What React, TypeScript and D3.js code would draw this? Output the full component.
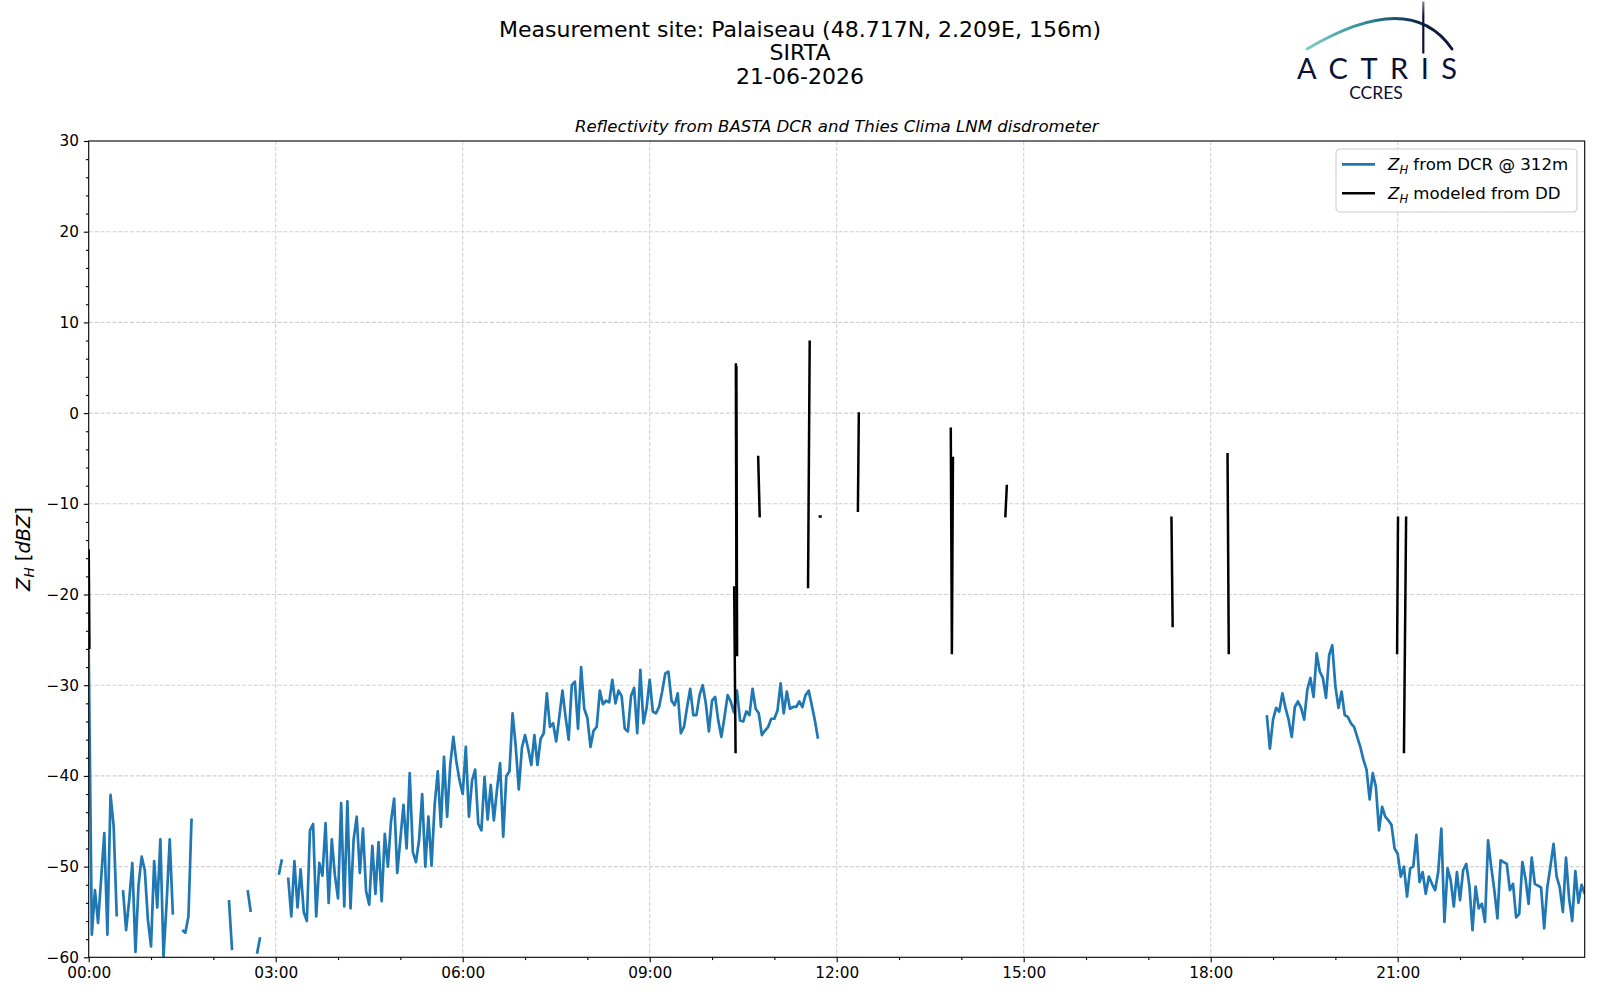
import React, { useEffect, useRef } from 'react';
import * as d3 from 'd3';

// DCR reflectivity, sampled every 3 minutes, null = no data
const STEP_H = 3 / 60;

const dcr0000: (number | null)[] = [
  -26, -57.5, -52.6, -56.2, -51.3, -46.3, -57.5, -42.1, -45.5, -55.5,
  null, -52.6, -57, -53.7, -49.6, -59.4, -52, -48.9, -50.4, -55.9,
  -58.8, -49.4, -54.5, -47, -59.9, -54, -47, -55.3, null, null,
  -57, -57.3, -55.5, -44.7, null, null, null, null, null, null,
  null, null, null, null, null, -53.7, -59.2, null, null, null,
  null, -52.6, -55, null, -59.6, -57.8, null, null, null, null,
];

const dcr0300: (number | null)[] = [
  null, -50.9, -49.2, null, -51.2, -55.5, -49.4, -54.5, -50.3, -55,
  -56, -46, -45.3, -55.5, -49.6, -51, -45.2, -54, -47, -51,
  -53.5, -43, -54.4, -42.8, -54.6, -47, -44.5, -50.7, -45.8, -52.7,
  -54.2, -47.7, -53, -47.3, -53.8, -46.4, -50, -45, -42.5, -50.7,
  -47, -43.2, -48, -39.7, -48.4, -49.5, -47.1, -42, -50, -44.5,
  -49.9, -43.2, -39.5, -45.6, -37.9, -44.5, -38.8, -35.7, -38.5, -40.5,
];

const dcr0600: (number | null)[] = [
  -42, -36.8, -44.5, -40.5, -39.3, -45.3, -46, -40.1, -44.8, -41,
  -44.9, -41.5, -38.6, -46.7, -40, -39.5, -33.1, -36.7, -41.5, -36.9,
  -35.5, -37, -38.8, -35.5, -38.8, -35.9, -35.3, -30.9, -34.6, -34.2,
  -36.2, -33.5, -30.6, -33.5, -36, -30, -29.6, -34.8, -28, -32.6,
  -33.6, -36.8, -35, -34.6, -30.6, -32.1, -31.7, -31.9, -29.4, -32,
  -30.6, -31.2, -34.8, -35.1, -31.2, -30.3, -35.3, -28.3, -34.2, -32.5,
];

const dcr0900: (number | null)[] = [
  -29.4, -32.9, -33.1, -32.4, -30.7, -28.7, -28.5, -31.7, -32.2, -30.9,
  -35.3, -34.6, -32.4, -30.4, -33.3, -33.3, -31.1, -30, -32, -35.1,
  -31.7, -31.3, -33.9, -35.7, -33.5, -31.1, -31.8, -33, -30.6, -33.9,
  -34, -32.9, -33.3, -30.4, -32.6, -33.1, -35.5, -35, -34.6, -33.7,
  -33.7, -32.8, -29.8, -33.1, -30.7, -32.6, -32.4, -32.4, -31.8, -32.4,
  -31.1, -30.6, -32.2, -33.9, -35.9,
];

const dcr1854: (number | null)[] = [
  -33.3, -37, -33.8, -32.5, -32.9, -30.9, -32.5, -33.8, -35.7, -32.4,
  -31.8, -32.5, -33.8, -30.5, -29.2, -31.3, -26.5, -28.5, -29.2, -31.4,
  -26.7, -25.6, -30.1, -32.5, -30.7, -33.3, -33.5, -34.2, -34.6, -35.7,
  -36.8, -38.2, -39.3, -42.6, -39.7, -41.2, -46, -43.4, -44.5, -44.9,
  -45.4, -48,
];

const dcr2100: (number | null)[] = [
  -48.6, -51.1, -50, -53.3, -50.2, -50, -46.5, -51.7, -50.6, -53,
  -51.1, -51.9, -52.6, -50.6, -45.8, -56.1, -50.2, -51.5, -54.4, -50.6,
  -53.7, -50.4, -49.7, -52.1, -57, -52.2, -54.6, -54.1, -56.1, -47.1,
  -50, -52.6, -55.7, -49.3, -49.5, -49.7, -52.6, -51.9, -55.6, -55.2,
  -49.5, -51.3, -54.1, -49, -51.9, -52.1, -52.3, -56.8, -52.3, -50,
  -47.5, -51.1, -52.3, -55, -49, -53.5, -56, -50.5, -54, -52,
  -53,
];

const dcrBlocks = [
  { start: 0, values: dcr0000 },
  { start: 3, values: dcr0300 },
  { start: 6, values: dcr0600 },
  { start: 9, values: dcr0900 },
  { start: 18.9, values: dcr1854 },
  { start: 21, values: dcr2100 },
];

// disdrometer modeled reflectivity: short [hour, dBZ] pieces
const ddSegments: [number, number][][] = [
  [[0, -15], [0.012, -26]],
  [[10.355, -19.1], [10.378, -37.5]],
  [[10.382, 5.5], [10.394, -26.5]],
  [[10.39, 5.2], [10.402, -26.8]],
  [[10.74, -4.7], [10.765, -11.5]],
  [[11.54, -19.3], [11.567, 8]],
  [[11.71, -11.4], [11.76, -11.4]],
  [[12.34, -10.9], [12.355, 0.1]],
  [[13.83, -1.6], [13.848, -26.6], [13.865, -4.8]],
  [[14.705, -11.5], [14.73, -7.9]],
  [[17.37, -11.4], [17.39, -23.6]],
  [[18.27, -4.4], [18.29, -26.6]],
  [[20.99, -26.6], [21.005, -11.4]],
  [[21.1, -37.5], [21.135, -11.4]],
];

const xMajor = [0, 3, 6, 9, 12, 15, 18, 21];
const xMinor = [1, 2, 4, 5, 7, 8, 10, 11, 13, 14, 16, 17, 19, 20, 22, 23];
const yMajor = [-60, -50, -40, -30, -20, -10, 0, 10, 20, 30];

const titleLines = ['Measurement site: Palaiseau (48.717N, 2.209E, 156m)', 'SIRTA', '21-06-2026'];
const subtitle = 'Reflectivity from BASTA DCR and Thies Clima LNM disdrometer';

const FONT = 'DejaVu Sans';
const BLUE = '#1f77b4';
const NAVY = '#0b1136';
const LW = 2.7;

const App: React.FC = () => {
  const plotRef = useRef<SVGGElement>(null);

  useEffect(() => {
    const g = d3.select(plotRef.current);
    g.selectAll('*').remove();

    const x = d3.scaleLinear().domain([0, 24]).range([88.7, 1584.7]);
    const y = d3.scaleLinear().domain([-60, 30]).range([957.3, 141]);
    const [x0, x1] = x.range();
    const [y0, y1] = y.range();

    g.append('clipPath').attr('id', 'plotClip')
      .append('rect')
      .attr('x', x0).attr('y', y1).attr('width', x1 - x0).attr('height', y0 - y1);

    // grid
    const grid = g.append('g')
      .attr('stroke', '#d2d2d2')
      .attr('stroke-width', 1.1)
      .attr('stroke-dasharray', '4.1 1.8');
    grid.selectAll('line.v').data(xMajor.filter(d => d > 0)).enter().append('line')
      .attr('x1', d => x(d)).attr('x2', d => x(d)).attr('y1', y1).attr('y2', y0);
    grid.selectAll('line.h').data(yMajor.filter(d => d > -60 && d < 30)).enter().append('line')
      .attr('class', 'h')
      .attr('x1', x0).attr('x2', x1).attr('y1', d => y(d)).attr('y2', d => y(d));

    // series
    const dcrPoints: [number, number | null][] = [];
    dcrBlocks.forEach((b, k) => {
      if (k > 0) {
        const prev = dcrBlocks[k - 1];
        if (Math.abs(prev.start + prev.values.length * STEP_H - b.start) > 1e-6) dcrPoints.push([b.start, null]);
      }
      b.values.forEach((v, i) => dcrPoints.push([b.start + i * STEP_H, v]));
    });

    const line = d3.line<[number, number | null]>()
      .defined(d => d[1] !== null)
      .x(d => x(d[0]))
      .y(d => y(d[1] as number));

    const lines = g.append('g').attr('clip-path', 'url(#plotClip)');
    lines.append('path')
      .attr('d', line(dcrPoints))
      .attr('fill', 'none')
      .attr('stroke', BLUE)
      .attr('stroke-width', LW)
      .attr('stroke-linejoin', 'round')
      .attr('stroke-linecap', 'butt');

    lines.selectAll('path.dd').data(ddSegments).enter().append('path')
      .attr('class', 'dd')
      .attr('d', d => line(d))
      .attr('fill', 'none')
      .attr('stroke', '#000')
      .attr('stroke-width', LW - 0.2)
      .attr('stroke-linecap', 'butt');

    // axes
    const styleAxis = (sel: d3.Selection<SVGGElement, unknown, null, undefined>) => {
      sel.select('.domain').remove();
      sel.attr('font-family', FONT).attr('font-size', 15.3).attr('color', '#000');
      sel.selectAll('line').attr('stroke-width', 1.1);
    };

    g.append('g').attr('transform', `translate(0,${y0})`)
      .call(d3.axisBottom(x).tickValues(xMajor).tickSize(4.9).tickPadding(4.9)
        .tickFormat(d => `${String(d).padStart(2, '0')}:00`))
      .call(styleAxis);
    g.append('g').attr('transform', `translate(0,${y0})`)
      .call(d3.axisBottom(x).tickValues(xMinor).tickSize(2.8).tickFormat(() => ''))
      .call(styleAxis);

    const yMinor = d3.range(-58, 30, 2).filter(v => v % 10 !== 0);
    g.append('g').attr('transform', `translate(${x0},0)`)
      .call(d3.axisLeft(y).tickValues(yMajor).tickSize(4.9).tickPadding(4.9).tickFormat(d3.format('d')))
      .call(styleAxis);
    g.append('g').attr('transform', `translate(${x0},0)`)
      .call(d3.axisLeft(y).tickValues(yMinor).tickSize(2.8).tickFormat(() => ''))
      .call(styleAxis);

    g.append('rect')
      .attr('x', x0).attr('y', y1).attr('width', x1 - x0).attr('height', y0 - y1)
      .attr('fill', 'none').attr('stroke', '#000').attr('stroke-width', 1.1);
  }, []);

  return (
    <svg width={1600} height={1000} style={{ position: 'absolute', left: 0, top: 0, background: '#fff' }}
      fontFamily={FONT}>
      <defs>
        <linearGradient id="arcGrad" x1="1305" y1="0" x2="1455" y2="0" gradientUnits="userSpaceOnUse">
          <stop offset="0" stopColor="#86d0c9" />
          <stop offset="0.4" stopColor="#2f8a96" />
          <stop offset="0.75" stopColor="#0d2a4a" />
          <stop offset="1" stopColor={NAVY} />
        </linearGradient>
        <linearGradient id="barGrad" x1="0" y1="0" x2="0" y2="55" gradientUnits="userSpaceOnUse">
          <stop offset="0" stopColor="#8a8fa8" />
          <stop offset="0.3" stopColor={NAVY} />
          <stop offset="1" stopColor={NAVY} />
        </linearGradient>
      </defs>
      <rect x={0} y={0} width={1600} height={1000} fill="#fff" />

      {titleLines.map((t, i) => (
        <text key={t} x={800} y={36.5 + i * 23.5} textAnchor="middle" fontSize={22} fill="#000">{t}</text>
      ))}
      <text x={836.7} y={131.5} textAnchor="middle" fontSize={16.6} fontStyle="italic" fill="#000">{subtitle}</text>

      {/* ACTRIS / CCRES logo */}
      <path d="M 1307 49 Q 1410 -12 1452 49" fill="none" stroke="url(#arcGrad)" strokeWidth={2.8} strokeLinecap="round" />
      <line x1={1423.3} x2={1423.3} y1={1.5} y2={53.5} stroke="url(#barGrad)" strokeWidth={2.2} />
      <text x={1297} y={78.5} fontFamily="Lato" fontSize={29} fill={NAVY} textLength={160} lengthAdjust="spacing">ACTRIS</text>
      <text x={1376} y={99} fontFamily="Lato" fontSize={17.5} fill={NAVY} textAnchor="middle">CCRES</text>

      <text transform="translate(29.5,549) rotate(-90)" textAnchor="middle" fontSize={19.4} fill="#000">
        <tspan fontStyle="italic">Z</tspan>
        <tspan fontStyle="italic" fontSize={13.6} dy={4}>H</tspan>
        <tspan dy={-4}> [</tspan>
        <tspan fontStyle="italic">dBZ</tspan>
        <tspan>]</tspan>
      </text>

      <g ref={plotRef} />

      {/* legend */}
      <rect x={1336} y={149} width={241} height={63} rx={4} fill="#fff" fillOpacity={0.8} stroke="#cccccc" strokeWidth={1.1} />
      <line x1={1342} x2={1375} y1={164.3} y2={164.3} stroke={BLUE} strokeWidth={LW} />
      <line x1={1342} x2={1375} y1={193.3} y2={193.3} stroke="#000" strokeWidth={LW - 0.2} />
      <text x={1388} y={170} fontSize={16.6} fill="#000">
        <tspan fontStyle="italic">Z</tspan>
        <tspan fontStyle="italic" fontSize={11.6} dy={3.5}>H</tspan>
        <tspan dy={-3.5}> from DCR @ 312m</tspan>
      </text>
      <text x={1388} y={199} fontSize={16.6} fill="#000">
        <tspan fontStyle="italic">Z</tspan>
        <tspan fontStyle="italic" fontSize={11.6} dy={3.5}>H</tspan>
        <tspan dy={-3.5}> modeled from DD</tspan>
      </text>
    </svg>
  );
};

export default App;
